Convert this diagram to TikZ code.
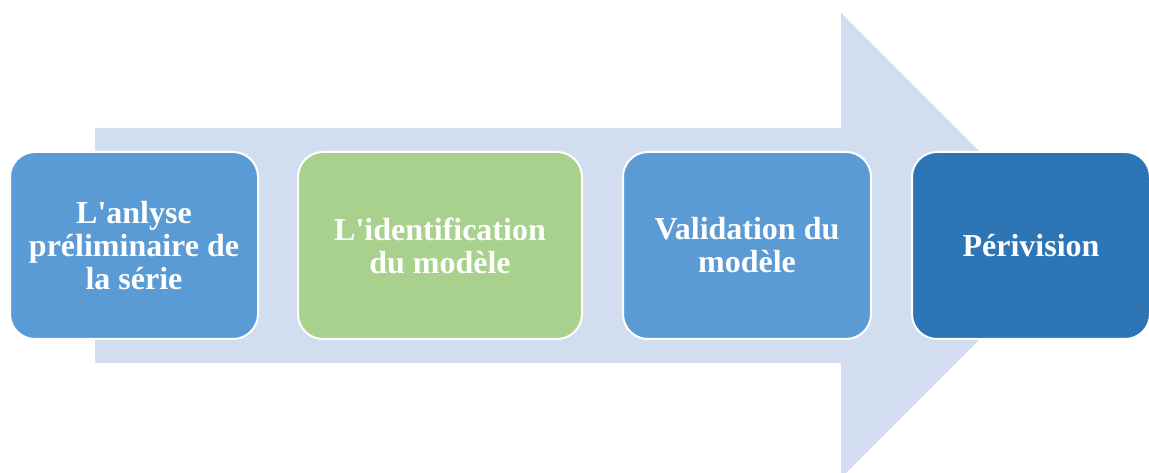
\documentclass[tikz,border=0pt]{standalone}
\usepackage{fontspec}
\setmainfont{Liberation Serif}[Ligatures=TeXOff]
\definecolor{arrowfill}{HTML}{D2DEEF}
\definecolor{stepblue}{HTML}{5B9BD5}
\definecolor{stepgreen}{HTML}{A9D18E}
\definecolor{stepdark}{HTML}{2E75B6}
\begin{document}
\begin{tikzpicture}[x=1pt,y=1pt,
  stepbox/.style={draw=white, line width=2pt, rounded corners=25pt,
    text=white, font=\bfseries\fontsize{32}{33}\selectfont, align=center,
    inner sep=0pt, minimum height=187pt},
]
\useasboundingbox (0,0) rectangle (1149,473);
\begin{scope}
  \clip (0,0) rectangle (1149,473);
  % background arrow
  \fill[arrowfill] (95,345) -- (841,345) -- (841,460) -- (1073.5,227.5)
    -- (841,-5) -- (841,110) -- (95,110) -- cycle;
  % process steps
  \node[stepbox, fill=stepblue, minimum width=248pt] (s1) at (134,227.5)
    {L'anlyse\\préliminaire de\\la série};
  \node[stepbox, fill=stepgreen, minimum width=284pt] (s2) at (440,227.5)
    {L'identification\\du modèle};
  \node[stepbox, fill=stepblue, minimum width=248pt] (s3) at (747,227.5)
    {Validation du\\modèle};
  \node[stepbox, fill=stepdark, minimum width=238pt] (s4) at (1031,227.5)
    {Périvision};
\end{scope}
\end{tikzpicture}
\end{document}
